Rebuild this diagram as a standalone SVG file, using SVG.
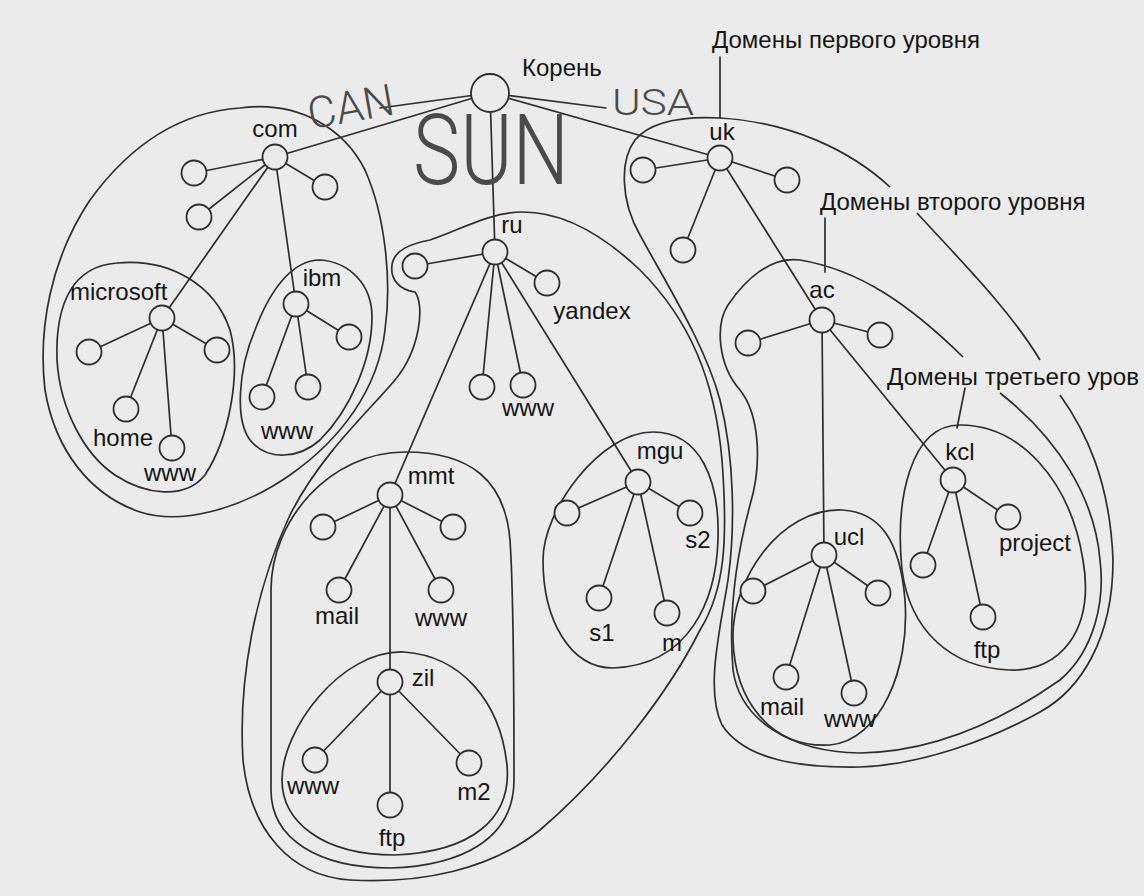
<svg xmlns="http://www.w3.org/2000/svg" width="1144" height="896" viewBox="0 0 1144 896">
<style>
.bg{fill:#ebebeb}
.ln{stroke:#2e2e2e;stroke-width:1.7;fill:none;stroke-linecap:round}
.rg{stroke:#2e2e2e;stroke-width:1.7;fill:none}
.nd{fill:#ebebeb;stroke:#2e2e2e;stroke-width:1.8}
.t{font-family:"Liberation Sans",Arial,sans-serif;font-size:24px;fill:#151515}
.tc{font-family:"Liberation Sans",Arial,sans-serif;font-size:24px;fill:#151515;text-anchor:middle}
.hw{font-family:Roboto,"DejaVu Sans",sans-serif;font-weight:300;fill:#4a4a4a}
</style>
<rect class="bg" x="0" y="0" width="1144" height="896"/>

<g id="regions">
<path id="reg-com" class="rg" d="M240,108 C300,100 345,130 365,170 C385,215 392,280 385,330 C378,390 340,440 290,475 C240,510 180,525 140,512 C90,495 55,450 45,390 C38,330 50,260 90,200 C130,145 180,112 240,108 Z"/>
<path id="reg-microsoft" class="rg" d="M117,263 C170,258 215,285 230,330 C242,375 228,440 205,475 C185,500 145,495 115,475 C85,455 60,410 57,360 C55,300 75,266 117,263 Z"/>
<path id="reg-ibm" class="rg" d="M320,260 C350,262 372,285 372,317 C372,360 350,410 320,440 C300,458 268,462 250,440 C235,420 238,370 255,330 C270,290 292,260 320,260 Z"/>
<path id="reg-ru" class="rg" d="M523,212 C560,212 600,232 640,270 C690,320 715,380 722,460 C728,540 725,590 700,630 C670,690 610,770 540,830 C490,870 420,884 350,880 C290,876 250,830 243,760 C238,680 255,590 290,515 C320,455 370,410 395,380 C420,350 425,305 415,292 C400,290 390,280 392,265 C394,250 410,244 430,240 C460,230 490,212 523,212 Z"/>
<path id="reg-mmt" class="rg" d="M271,790 L271,590 C271,520 330,452 405,452 C470,452 505,480 510,540 C514,600 514,700 514,780 C514,840 460,866 390,868 C320,868 271,840 271,790 Z"/>
<path id="reg-zil" class="rg" d="M404,652 C460,656 500,700 507,765 C512,820 470,852 395,855 C320,855 282,820 282,780 C282,730 340,650 404,652 Z"/>
<path id="reg-mgu" class="rg" d="M653,432 C700,432 720,480 718,540 C716,600 690,665 613,668 C570,668 543,620 543,560 C543,510 600,432 653,432 Z"/>
<path id="reg-uk" class="rg" d="M890,187 C850,150 790,122 720,118 C680,116 650,122 635,140 C620,160 620,200 640,235 C670,290 705,345 720,400 C735,460 735,530 728,580 C720,630 705,690 722,725 C745,760 800,768 860,767 C920,765 990,740 1040,712 C1080,690 1113,640 1113,560 C1110,480 1085,430 1060,395"/>
<path id="reg-uk2" class="rg" d="M917,213 C960,260 1010,310 1040,360"/>
<path id="reg-ac" class="rg" d="M963,357 C910,305 860,270 800,260 C770,256 745,280 728,305 C715,325 718,365 740,390 C760,415 762,465 750,505 C738,550 728,610 733,670 C740,720 790,752 860,753 C940,752 1010,715 1060,680 C1095,650 1105,600 1100,560 C1095,500 1060,440 1000,393"/>
<path id="reg-ucl" class="rg" d="M842,510 C880,512 900,540 905,600 C910,670 880,740 830,745 C770,748 735,700 733,640 C731,580 780,508 842,510 Z"/>
<path id="reg-kcl" class="rg" d="M960,425 C1020,425 1070,480 1083,560 C1095,630 1060,672 1010,670 C950,668 910,630 902,570 C895,500 910,425 960,425 Z"/>
</g>

<g id="connectors">
<line class="ln" x1="490" y1="93" x2="275" y2="157"/>
<line class="ln" x1="490" y1="93" x2="380" y2="108"/>
<line class="ln" x1="490" y1="93" x2="606" y2="108"/>
<line class="ln" x1="490" y1="93" x2="720" y2="158"/>
<line class="ln" x1="490" y1="93" x2="495" y2="252"/>
<line class="ln" x1="275" y1="157" x2="194" y2="173"/>
<line class="ln" x1="275" y1="157" x2="199" y2="217"/>
<line class="ln" x1="275" y1="157" x2="325" y2="187"/>
<line class="ln" x1="275" y1="157" x2="162" y2="318"/>
<line class="ln" x1="275" y1="157" x2="296" y2="304"/>
<line class="ln" x1="162" y1="318" x2="89" y2="352"/>
<line class="ln" x1="162" y1="318" x2="217" y2="350"/>
<line class="ln" x1="162" y1="318" x2="126" y2="409"/>
<line class="ln" x1="162" y1="318" x2="172" y2="448"/>
<line class="ln" x1="296" y1="304" x2="349" y2="337"/>
<line class="ln" x1="296" y1="304" x2="262" y2="397"/>
<line class="ln" x1="296" y1="304" x2="308" y2="387"/>
<line class="ln" x1="495" y1="252" x2="415" y2="266"/>
<line class="ln" x1="495" y1="252" x2="547" y2="283"/>
<line class="ln" x1="495" y1="252" x2="482" y2="387"/>
<line class="ln" x1="495" y1="252" x2="523" y2="385"/>
<line class="ln" x1="495" y1="252" x2="390" y2="495"/>
<line class="ln" x1="495" y1="252" x2="638" y2="482"/>
<line class="ln" x1="390" y1="495" x2="323" y2="527"/>
<line class="ln" x1="390" y1="495" x2="453" y2="527"/>
<line class="ln" x1="390" y1="495" x2="339" y2="590"/>
<line class="ln" x1="390" y1="495" x2="441" y2="590"/>
<line class="ln" x1="390" y1="495" x2="390" y2="682"/>
<line class="ln" x1="390" y1="682" x2="315" y2="760"/>
<line class="ln" x1="390" y1="682" x2="469" y2="763"/>
<line class="ln" x1="390" y1="682" x2="390" y2="805"/>
<line class="ln" x1="638" y1="482" x2="567" y2="513"/>
<line class="ln" x1="638" y1="482" x2="690" y2="513"/>
<line class="ln" x1="638" y1="482" x2="599" y2="598"/>
<line class="ln" x1="638" y1="482" x2="667" y2="613"/>
<line class="ln" x1="720" y1="158" x2="643" y2="170"/>
<line class="ln" x1="720" y1="158" x2="787" y2="180"/>
<line class="ln" x1="720" y1="158" x2="683" y2="250"/>
<line class="ln" x1="720" y1="158" x2="822" y2="320"/>
<line class="ln" x1="822" y1="320" x2="748" y2="343"/>
<line class="ln" x1="822" y1="320" x2="880" y2="335"/>
<line class="ln" x1="822" y1="320" x2="824" y2="555"/>
<line class="ln" x1="822" y1="320" x2="953" y2="480"/>
<line class="ln" x1="824" y1="555" x2="753" y2="591"/>
<line class="ln" x1="824" y1="555" x2="878" y2="593"/>
<line class="ln" x1="824" y1="555" x2="786" y2="677"/>
<line class="ln" x1="824" y1="555" x2="854" y2="693"/>
<line class="ln" x1="953" y1="480" x2="1008" y2="517"/>
<line class="ln" x1="953" y1="480" x2="923" y2="565"/>
<line class="ln" x1="953" y1="480" x2="983" y2="617"/>
<line class="ln" x1="720" y1="57" x2="720" y2="118"/>
<line class="ln" x1="825" y1="218" x2="825" y2="272"/>
<line class="ln" x1="965" y1="388" x2="957" y2="428"/>
</g>

<g id="root"><circle class="nd" cx="490" cy="93" r="19"/><text class="t" x="522" y="76">Корень</text></g>
<g id="com"><circle class="nd" cx="275" cy="157" r="12.5"/><text class="tc" x="275" y="137">com</text></g>
<g id="com-c1"><circle class="nd" cx="194" cy="173" r="12.5"/></g>
<g id="com-c2"><circle class="nd" cx="199" cy="217" r="12.5"/></g>
<g id="com-c3"><circle class="nd" cx="325" cy="187" r="12.5"/></g>
<g id="microsoft"><circle class="nd" cx="162" cy="318" r="12.5"/><text class="t" x="70" y="300">microsoft</text></g>
<g id="ms-c1"><circle class="nd" cx="89" cy="352" r="12.5"/></g>
<g id="ms-c2"><circle class="nd" cx="217" cy="350" r="12.5"/></g>
<g id="ms-home"><circle class="nd" cx="126" cy="409" r="12.5"/><text class="tc" x="123" y="446">home</text></g>
<g id="ms-www"><circle class="nd" cx="172" cy="448" r="12.5"/><text class="tc" x="170" y="481">www</text></g>
<g id="ibm"><circle class="nd" cx="296" cy="304" r="12.5"/><text class="tc" x="322" y="286">ibm</text></g>
<g id="ibm-c1"><circle class="nd" cx="349" cy="337" r="12.5"/></g>
<g id="ibm-c2"><circle class="nd" cx="262" cy="397" r="12.5"/></g>
<g id="ibm-www"><circle class="nd" cx="308" cy="387" r="12.5"/><text class="tc" x="287" y="439">www</text></g>
<g id="ru"><circle class="nd" cx="495" cy="252" r="12.5"/><text class="tc" x="512" y="233">ru</text></g>
<g id="ru-c1"><circle class="nd" cx="415" cy="266" r="12.5"/></g>
<g id="yandex"><circle class="nd" cx="547" cy="283" r="12.5"/><text class="tc" x="592" y="319">yandex</text></g>
<g id="ru-c2"><circle class="nd" cx="482" cy="387" r="12.5"/></g>
<g id="ru-www"><circle class="nd" cx="523" cy="385" r="12.5"/><text class="tc" x="528" y="416">www</text></g>
<g id="mmt"><circle class="nd" cx="390" cy="495" r="12.5"/><text class="tc" x="431" y="484">mmt</text></g>
<g id="mmt-c1"><circle class="nd" cx="323" cy="527" r="12.5"/></g>
<g id="mmt-c2"><circle class="nd" cx="453" cy="527" r="12.5"/></g>
<g id="mmt-mail"><circle class="nd" cx="339" cy="590" r="12.5"/><text class="tc" x="337" y="624">mail</text></g>
<g id="mmt-www"><circle class="nd" cx="441" cy="590" r="12.5"/><text class="tc" x="441" y="626">www</text></g>
<g id="zil"><circle class="nd" cx="390" cy="682" r="12.5"/><text class="tc" x="423" y="686">zil</text></g>
<g id="zil-www"><circle class="nd" cx="315" cy="760" r="12.5"/><text class="tc" x="313" y="794">www</text></g>
<g id="zil-m2"><circle class="nd" cx="469" cy="763" r="12.5"/><text class="tc" x="474" y="800">m2</text></g>
<g id="zil-ftp"><circle class="nd" cx="390" cy="805" r="12.5"/><text class="tc" x="392" y="846">ftp</text></g>
<g id="mgu"><circle class="nd" cx="638" cy="482" r="12.5"/><text class="tc" x="660" y="459">mgu</text></g>
<g id="mgu-c1"><circle class="nd" cx="567" cy="513" r="12.5"/></g>
<g id="mgu-s2"><circle class="nd" cx="690" cy="513" r="12.5"/><text class="tc" x="698" y="548">s2</text></g>
<g id="mgu-s1"><circle class="nd" cx="599" cy="598" r="12.5"/><text class="tc" x="602" y="641">s1</text></g>
<g id="mgu-m"><circle class="nd" cx="667" cy="613" r="12.5"/><text class="tc" x="672" y="651">m</text></g>
<g id="uk"><circle class="nd" cx="720" cy="158" r="12.5"/><text class="tc" x="722" y="140">uk</text></g>
<g id="uk-c1"><circle class="nd" cx="643" cy="170" r="12.5"/></g>
<g id="uk-c2"><circle class="nd" cx="787" cy="180" r="12.5"/></g>
<g id="uk-c3"><circle class="nd" cx="683" cy="250" r="12.5"/></g>
<g id="ac"><circle class="nd" cx="822" cy="320" r="12.5"/><text class="tc" x="822" y="298">ac</text></g>
<g id="ac-c1"><circle class="nd" cx="748" cy="343" r="12.5"/></g>
<g id="ac-c2"><circle class="nd" cx="880" cy="335" r="12.5"/></g>
<g id="ucl"><circle class="nd" cx="824" cy="555" r="12.5"/><text class="tc" x="849" y="545">ucl</text></g>
<g id="ucl-c1"><circle class="nd" cx="753" cy="591" r="12.5"/></g>
<g id="ucl-c2"><circle class="nd" cx="878" cy="593" r="12.5"/></g>
<g id="ucl-mail"><circle class="nd" cx="786" cy="677" r="12.5"/><text class="tc" x="782" y="715">mail</text></g>
<g id="ucl-www"><circle class="nd" cx="854" cy="693" r="12.5"/><text class="tc" x="850" y="727">www</text></g>
<g id="kcl"><circle class="nd" cx="953" cy="480" r="12.5"/><text class="tc" x="960" y="460">kcl</text></g>
<g id="kcl-project"><circle class="nd" cx="1008" cy="517" r="12.5"/><text class="tc" x="1035" y="551">project</text></g>
<g id="kcl-c1"><circle class="nd" cx="923" cy="565" r="12.5"/></g>
<g id="kcl-ftp"><circle class="nd" cx="983" cy="617" r="12.5"/><text class="tc" x="987" y="658">ftp</text></g>

<g id="labels">
<text class="t" x="712" y="48">Домены первого уровня</text>
<text class="t" x="820" y="210">Домены второго уровня</text>
<text class="t" x="887" y="385" textLength="252" lengthAdjust="spacingAndGlyphs">Домены третьего уров</text>
</g>

<g id="handwriting">
<text class="hw" x="307" y="122" font-size="44" textLength="87" lengthAdjust="spacingAndGlyphs" transform="rotate(-10 350 106)">CAN</text>
<text class="hw" x="413" y="184" font-size="98" textLength="156" lengthAdjust="spacingAndGlyphs">SUN</text>
<text class="hw" x="612" y="115" font-size="36" font-weight="500" textLength="82" lengthAdjust="spacingAndGlyphs">USA</text>
</g>
</svg>
